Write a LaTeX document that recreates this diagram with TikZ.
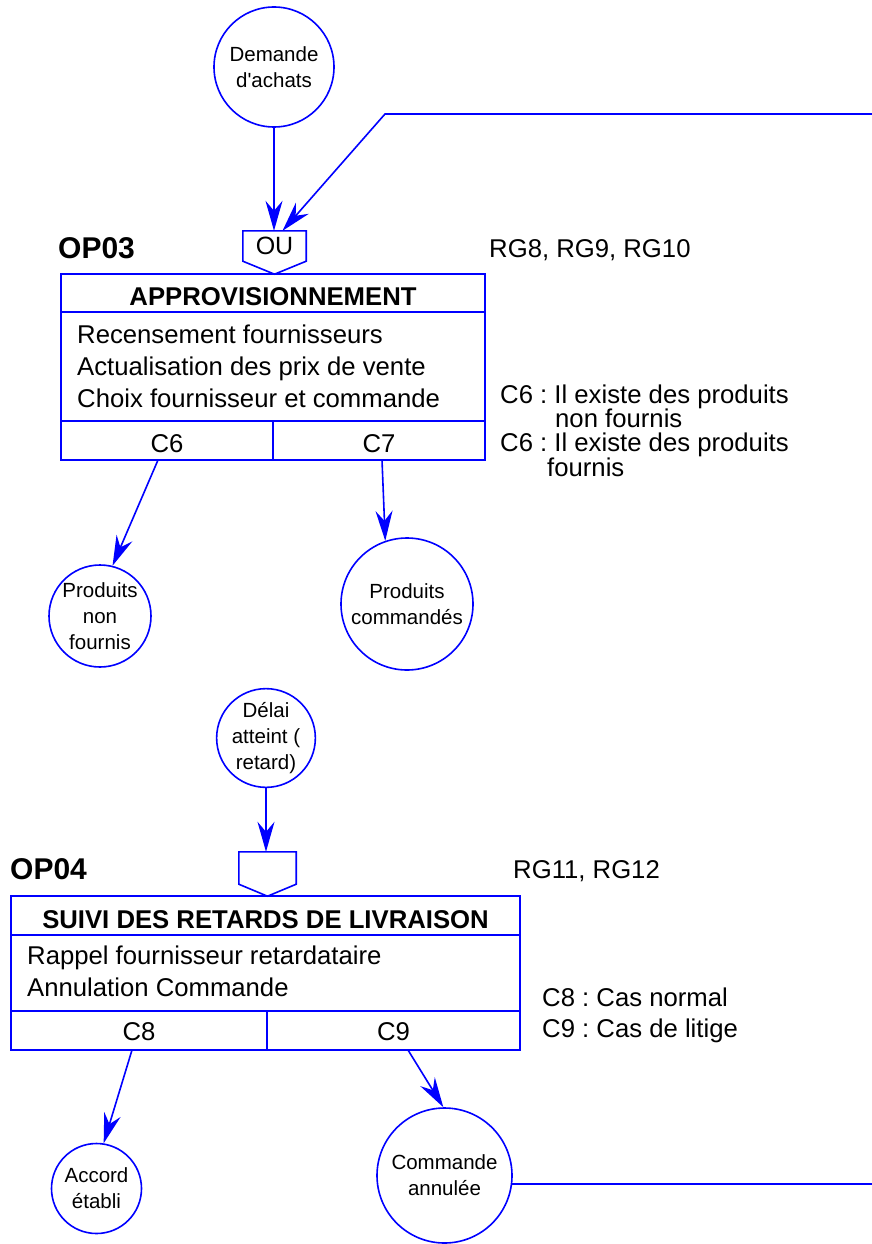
\documentclass[tikz,border=0pt]{standalone}
\usepackage{fontspec}
\setmainfont{Liberation Sans}[Ligatures=TeXOff]
\usetikzlibrary{arrows.meta,calc}
\definecolor{lblue}{RGB}{0,0,255}
\frenchspacing
\begin{document}
\begin{tikzpicture}[x=1pt,y=-1pt,
  ln/.style={draw=lblue, line width=1.6pt},
  arr/.style={ln, -{Stealth[length=30pt,width=17pt,inset=10pt]}},
  circ/.style={circle, draw=lblue, line width=1.6pt, inner sep=0pt, align=center, font=\fontsize{20.5}{26}\selectfont},
  box/.style={draw=lblue, line width=1.6pt, inner sep=0pt},
  txt/.style={inner sep=0pt, anchor=base west, font=\fontsize{25.7}{30}\selectfont},
  ctxt/.style={inner sep=0pt, anchor=base, font=\fontsize{25.7}{30}\selectfont},
  btxt/.style={inner sep=0pt, anchor=base, font=\fontsize{25.7}{30}\selectfont\bfseries},
  optxt/.style={inner sep=0pt, anchor=base west, font=\fontsize{30}{34}\selectfont\bfseries},
  pent/.style={inner sep=0pt, font=\fontsize{25}{30}\selectfont}
]
\useasboundingbox (0,0) rectangle (872,1244);

% ---------- OP03 ----------
\node[circ, minimum size=120pt] (dem) at (274,67) {Demande\\d'achats};
\node[pent, minimum width=63pt, minimum height=30pt] (ou1) at (274.5,246) {OU};
\draw[ln] (ou1.south west) -- (ou1.north west) -- (ou1.north east) -- (ou1.south east) -- ($(ou1.south)+(0,13)$) -- cycle;

\coordinate (r1) at (872,114);
\coordinate (k1) at (385,114);
\coordinate (ou1b) at ($(ou1.north)+(8,0)$);
\draw[arr] (dem.south) -- (dem.south |- ou1.north);
\draw[arr] (r1) -- (k1) -- (ou1b);

\node[optxt] (op3) at (58,258) {OP03};
\node[txt] (rg3) at (489,257) {RG8, RG9, RG10};

\node[box, minimum width=424pt, minimum height=186pt] (b3) at (273,367) {};
\draw[ln] (61,312) -- (485,312);
\draw[ln] (61,421) -- (485,421);
\draw[ln] (273,421) -- (273,460);
\node[btxt] (t3) at (273,305) {APPROVISIONNEMENT};
\node[txt] (t3a) at (77,343) {Recensement fournisseurs};
\node[txt] (t3b) at (77,375) {Actualisation des prix de vente};
\node[txt] (t3c) at (77,407) {Choix fournisseur et commande};
\node[ctxt] (c6) at (167,452) {C6};
\node[ctxt] (c7) at (379,452) {C7};

\node[txt] (n1) at (500,403) {C6 : Il existe des produits};
\node[txt] (n2) at (555,427) {non fournis};
\node[txt] (n3) at (500,451) {C6 : Il existe des produits};
\node[txt] (n4) at (547,476) {fournis};

\node[circ, minimum size=102pt] (pnf) at (100,616) {Produits\\non\\fournis};
\node[circ, minimum size=132pt] (pc) at (407,604) {Produits\\commandés};
\coordinate (c6o) at (158,460);
\coordinate (c7o) at (382,460);
\draw[arr] (c6o) -- (pnf.76);
\draw[arr] (c7o) -- (pc.109);

% ---------- OP04 ----------
\node[circ, minimum size=98pt] (del) at (266,738) {Délai\\atteint (\\retard)};
\node[pent, minimum width=57pt, minimum height=32pt] (p4) at (267.5,868) {};
\draw[ln] (p4.south west) -- (p4.north west) -- (p4.north east) -- (p4.south east) -- ($(p4.south)+(0,12)$) -- cycle;
\draw[arr] (del.south) -- (del.south |- p4.north);

\node[optxt] (op4) at (10,879) {OP04};
\node[txt] (rg4) at (513,878) {RG11, RG12};

\node[box, minimum width=509pt, minimum height=154pt] (b4) at (265.5,973) {};
\draw[ln] (11,935) -- (520,935);
\draw[ln] (11,1011) -- (520,1011);
\draw[ln] (267,1011) -- (267,1050);
\node[btxt] (t4) at (265.5,928) {SUIVI DES RETARDS DE LIVRAISON};
\node[txt] (t4a) at (27,964) {Rappel fournisseur retardataire};
\node[txt] (t4b) at (27,996) {Annulation Commande};
\node[ctxt] (c8) at (139,1040) {C8};
\node[ctxt] (c9) at (393.5,1040) {C9};

\node[txt] (m1) at (542,1006) {C8 : Cas normal};
\node[txt] (m2) at (542,1037) {C9 : Cas de litige};

\node[circ, minimum size=90pt] (acc) at (96.5,1188.5) {Accord\\établi};
\node[circ, minimum size=135pt] (can) at (444.5,1175.5) {Commande\\annulée};
\coordinate (c8o) at (132,1050);
\coordinate (c9o) at (408,1050);
\coordinate (r2) at (872,1184);
\draw[arr] (c8o) -- (acc.81);
\draw[arr] (c9o) -- (can.91);
\draw[ln] (can.-7) -- (can.-7 -| r2);
\end{tikzpicture}
\end{document}
